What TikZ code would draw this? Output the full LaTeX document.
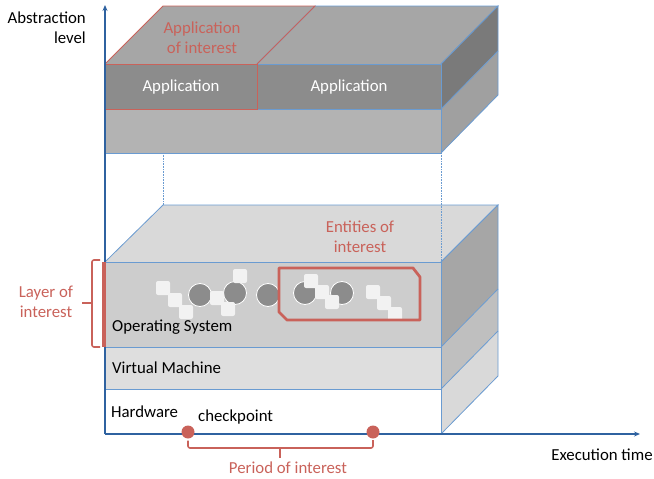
\documentclass[tikz,border=0pt]{standalone}
\usepackage{fontspec}
\setmainfont{Carlito}
\usetikzlibrary{arrows.meta}
\definecolor{edgeblue}{HTML}{6A9BD1}
\definecolor{axisblue}{HTML}{2F62A0}
\definecolor{redi}{HTML}{C9625A}
\definecolor{appfront}{HTML}{8C8C8C}
\definecolor{apptop}{HTML}{A6A6A6}
\definecolor{appside}{HTML}{7A7A7A}
\definecolor{lowfront}{HTML}{B3B3B3}
\definecolor{lowside}{HTML}{A0A0A0}
\definecolor{ostop}{HTML}{D9D9D9}
\definecolor{osfront}{HTML}{CDCDCD}
\definecolor{osside}{HTML}{A6A6A6}
\definecolor{vmfront}{HTML}{DEDEDE}
\definecolor{vmside}{HTML}{BFBFBF}
\definecolor{hwside}{HTML}{D9D9D9}
\definecolor{circfill}{HTML}{8C8C8C}
\definecolor{sqfill}{HTML}{F2F2F2}
\tikzset{
  face/.style={draw=edgeblue,line width=0.8pt},
  redface/.style={draw=redi,line width=0.8pt},
  txt/.style={font=\fontsize{16.8}{20}\selectfont,inner sep=0pt},
  redtxt/.style={txt,text=redi,align=center},
  ent/.style={circle,fill=circfill,draw=white,line width=0.8pt,minimum size=23pt,inner sep=0pt},
  sq/.style={rounded corners=2pt,fill=sqfill,draw=none,minimum size=14pt,inner sep=0pt,rectangle},
  axis/.style={draw=axisblue,line width=1.4pt,-{Stealth[length=6pt,width=5pt]}},
  cpt/.style={circle,fill=redi,minimum size=13pt,inner sep=0pt},
  brace/.style={draw=redi,line width=1.6pt,rounded corners=2pt}
}
\begin{document}
\begin{tikzpicture}[x=1pt,y=-1pt]
\useasboundingbox (0,0) rectangle (654,479);
% ---- upper block ----
\fill[apptop] (105,64) -- (163,6) -- (498,6) -- (441,64) -- cycle;
\draw[face] (257,64) -- (315,6) -- (498,6) -- (441,64);
\draw[redface] (105,64) -- (163,6) -- (315,6) -- (257,64);
\fill[appside] (441,64) -- (498,6) -- (498,51) -- (441,109) -- cycle;
\fill[lowside] (441,109) -- (498,51) -- (498,95) -- (441,153) -- cycle;
\draw[face] (441,64) -- (498,6) -- (498,95) -- (441,153);
\draw[face] (441,109) -- (498,51);
\fill[lowfront] (105,109) rectangle (441,153);
\draw[face] (105,109) rectangle (441,153);
\fill[appfront] (105,64) rectangle (441,109);
\draw[face] (257,64) rectangle (441,109);
\draw[redface] (105,64) rectangle (257,109);
\node[txt,text=white] (app1) at (181,87) {Application};
\node[txt,text=white] (app2) at (349,87) {Application};
\node[redtxt] (appint) at (202,38) {Application\\of interest};
% dotted guide lines
\draw[edgeblue,densely dotted,line width=0.6pt] (163,153) -- (163,205);
% ---- lower block ----
\fill[ostop] (105,262) -- (163,205) -- (498,205) -- (441,262) -- cycle;
\draw[face] (105,262) -- (163,205) -- (498,205) -- (441,262);
\draw[edgeblue,densely dotted,line width=0.6pt] (441,153) -- (441,262);
\fill[osside] (441,262) -- (498,205) -- (498,289) -- (441,347) -- cycle;
\fill[vmside] (441,347) -- (498,289) -- (498,331) -- (441,389) -- cycle;
\fill[hwside] (441,389) -- (498,331) -- (498,376) -- (441,434) -- cycle;
\draw[face] (441,262) -- (498,205) -- (498,376) -- (441,434);
\draw[face] (441,347) -- (498,289);
\draw[face] (441,389) -- (498,331);
\fill[osfront] (105,262) rectangle (441,347);
\fill[vmfront] (105,347) rectangle (441,389);
\fill[white] (105,389) rectangle (441,434);
\draw[face] (105,262) rectangle (441,434);
\draw[face] (105,347) -- (441,347);
\draw[face] (105,389) -- (441,389);
\node[redtxt] (entint) at (360,237) {Entities of\\interest};
% entities
\node[ent] (c1) at (200,295) {};
\node[ent] (c2) at (235,293) {};
\node[ent] (c3) at (268,295) {};
\node[ent] (c4) at (305,293) {};
\node[ent] (c5) at (342,293) {};
\foreach \n/\x/\y in {s1/163/288,s2/175/300,s3/186/312,s4/217/298,s5/228/309,s6/240/276,s7/311/281,s8/322/292,s9/332/302,s10/373/292,s11/384/303,s12/395/314}
  \node[sq] (\n) at (\x,\y) {};
\draw[redi,line width=2.8pt,line join=round] (279,268) -- (413,268) -- (420,277) -- (420,320) -- (287,320) -- (279,312) -- cycle;
\node[txt,anchor=west] (os) at (112,327) {Operating System};
\node[txt,anchor=west] (vm) at (112,368) {Virtual Machine};
\node[txt,anchor=west] (hw) at (111,412) {Hardware};
\node[txt,anchor=west] (cp) at (198,417) {checkpoint};
% ---- axes ----
\coordinate (orig) at (105,434);
\coordinate (ytip) at (105,5);
\coordinate (xtip) at (640,434);
\draw[axis] (orig) -- (ytip);
\draw[axis] (orig) -- (xtip);
\node[txt,align=right,anchor=east] (abs) at (86,28) {Abstraction\\level};
\node[txt] (ex) at (602,455) {Execution time};
% layer of interest
\draw[redi,line width=3.5pt] (104,262) -- (104,347);
\draw[brace] (100,260) -- (92,260) -- (92,347) -- (100,347);
\coordinate (lb) at (92,303);
\coordinate (lbt) at (82,303);
\draw[brace] (lb) -- (lbt);
\node[redtxt] (layint) at (46,302) {Layer of\\interest};
% period of interest
\node[cpt] (cpa) at (188,432) {};
\node[cpt] (cpb) at (373,432) {};
\draw[brace] (cpa.south) ++(0,2) -- (188,448) -- (373,448) -- (373,440);
\coordinate (pb) at (280,448);
\coordinate (pbt) at (280,458);
\draw[brace] (pb) -- (pbt);
\node[redtxt] (perint) at (288,468) {Period of interest};
\end{tikzpicture}
\end{document}
